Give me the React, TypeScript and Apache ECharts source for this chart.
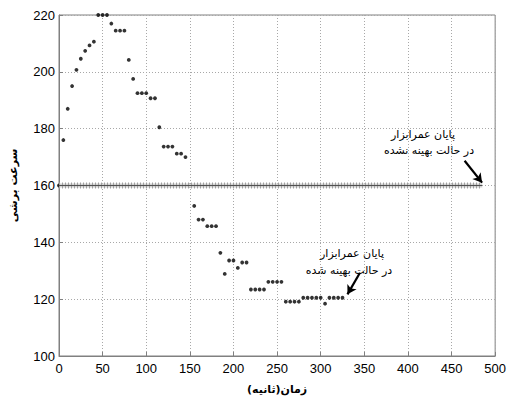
import React, { useEffect, useRef } from "react";
import * as echarts from "echarts";

// Optimized case: time (s) and cutting speed
const times = [0, 5, 10, 15, 20, 25, 30, 35, 40, 45, 50, 55, 60, 65, 70, 75, 80, 85, 90, 95, 100, 105, 110, 115, 120, 125, 130, 135, 140, 145, 150, 155, 160, 165, 170, 175, 180, 185, 190, 195, 200, 205, 210, 215, 220, 225, 230, 235, 240, 245, 250, 255, 260, 265, 270, 275, 280, 285, 290, 295, 300, 305, 310, 315, 320, 325];
const speeds = [160, 176, 187, 195, 200.7, 204.6, 207.4, 209.3, 210.6, 220, 220, 220, 217, 214.5, 214.5, 214.5, 204.2, 197.5, 192.5, 192.5, 192.5, 190.7, 190.7, 180.5, 173.7, 173.7, 173.7, 171.2, 171.2, 170, 160, 152.8, 148, 148, 145.7, 145.7, 145.7, 136.3, 128.9, 133.6, 133.6, 131, 132.9, 132.9, 123.4, 123.4, 123.4, 123.4, 126.1, 126.1, 126.1, 126.1, 119.1, 119.1, 119.1, 119.1, 120.5, 120.5, 120.5, 120.5, 120.5, 118.4, 120.5, 120.5, 120.5, 120.5];

// Non-optimized case: constant speed until end of tool life
const constSpeed = 160;
const constStart = 0;
const constEnd = 485;

// Axis ticks
const xTicks = { min: 0, max: 500, interval: 50 };
const yTicks = { min: 100, max: 220, interval: 20 };

// Labels
const xName = "زمان(ثانیه)";
const yName = "سرعت برشی";
const note1 = ["پایان عمرابزار", "در حالت بهینه نشده"];
const note2 = ["پایان عمرابزار", "در حالت بهینه شده"];

// Arrow endpoints in data coordinates
const arrow1 = [[465, 168.7], [485, 161]];
const arrow2 = [[345, 129.3], [330.7, 121.7]];

export default function App() {
  const ref = useRef<HTMLDivElement>(null);
  useEffect(() => {
    if (!ref.current) return;
    const chart = echarts.init(ref.current, null, { renderer: "svg" });
    const constLine = [[constStart, constSpeed], [constEnd, constSpeed]];
    const persianFont = "DejaVu Sans";
    const axisCommon = {
      axisLine: { show: true, lineStyle: { color: "#808080", width: 1 } },
      axisTick: { show: true, inside: true, length: 4, lineStyle: { color: "#808080" } },
      splitLine: { show: true, lineStyle: { color: "#a8a8a8", type: [1, 2], width: 1 } },
      axisLabel: { color: "#000", fontFamily: "Liberation Sans", fontSize: 13 },
    };
    chart.setOption({
      animation: false,
      grid: { left: 58, right: 11, top: 15, bottom: 41, show: true, borderColor: "#808080", borderWidth: 1 },
      xAxis: {
        type: "value",
        ...xTicks,
        ...axisCommon,
        axisLabel: { ...axisCommon.axisLabel, margin: 6 },
        name: xName,
        nameLocation: "middle",
        nameGap: 28,
        nameTextStyle: { color: "#000", fontFamily: persianFont, fontSize: 11, fontWeight: "bold" },
      },
      yAxis: {
        type: "value",
        ...yTicks,
        ...axisCommon,
        axisLabel: { ...axisCommon.axisLabel, margin: 4 },
        name: yName,
        nameLocation: "middle",
        nameGap: 40,
        nameTextStyle: { color: "#000", fontFamily: persianFont, fontSize: 11, fontWeight: "bold" },
      },
      series: [
        {
          type: "line",
          data: constLine,
          symbol: "none",
          lineStyle: { color: "#d4d4d4", width: 4 },
          silent: true,
        },
        {
          type: "line",
          data: constLine,
          symbol: "none",
          lineStyle: { color: "#a0a0a0", width: 6, type: [1, 2] },
          silent: true,
        },
        {
          type: "line",
          data: constLine,
          symbol: "none",
          lineStyle: { color: "#505050", width: 1 },
          silent: true,
        },
        {
          type: "scatter",
          data: times.map((t, i) => [t, speeds[i]]),
          symbol: "circle",
          symbolSize: 3.8,
          itemStyle: { color: "#000" },
          markLine: {
            silent: true,
            symbol: ["none", "arrow"],
            symbolSize: [8, 9],
            label: { show: false },
            lineStyle: { color: "#000", width: 2.2, type: "solid" },
            data: [
              [{ coord: arrow1[0] }, { coord: arrow1[1] }],
              [{ coord: arrow2[0] }, { coord: arrow2[1] }],
            ],
          },
        },
      ],
      graphic: [
        { type: "text", x: 423, y: 134, style: { text: note1[0], font: `11px "${persianFont}"`, fill: "#000", textAlign: "center", textVerticalAlign: "middle" } },
        { type: "text", x: 429, y: 150, style: { text: note1[1], font: `11px "${persianFont}"`, fill: "#000", textAlign: "center", textVerticalAlign: "middle" } },
        { type: "text", x: 352, y: 253, style: { text: note2[0], font: `11px "${persianFont}"`, fill: "#000", textAlign: "center", textVerticalAlign: "middle" } },
        { type: "text", x: 349, y: 270, style: { text: note2[1], font: `11px "${persianFont}"`, fill: "#000", textAlign: "center", textVerticalAlign: "middle" } },
      ],
    });
    return () => chart.dispose();
  }, []);
  return <div ref={ref} style={{ position: "absolute", left: 0, top: 0, width: 509, height: 400 }} />;
}
